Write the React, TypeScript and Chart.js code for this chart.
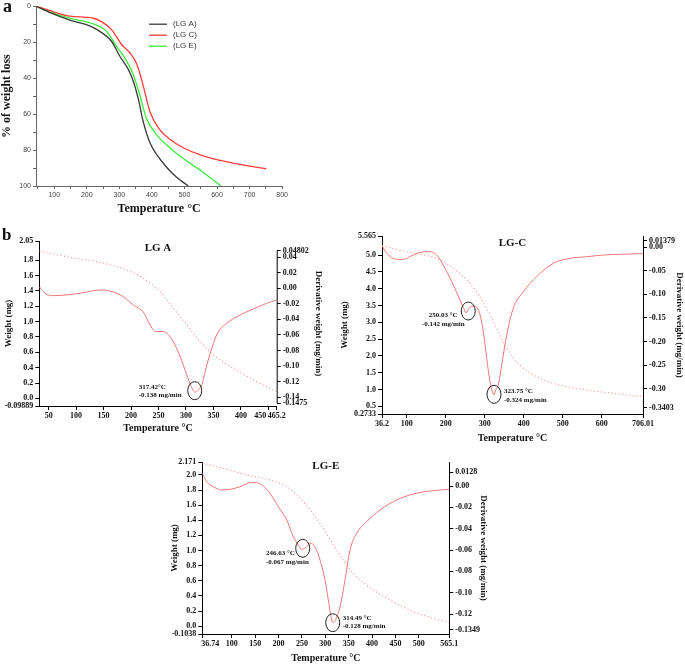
import { useEffect, useRef } from "react";
import { Chart, registerables } from "chart.js";

Chart.register(...registerables);

const SERIF = "'Liberation Serif', 'Times New Roman', serif";
const SANS = "'Liberation Sans', Arial, sans-serif";

// ---------------- Panel a : % of weight loss ----------------
const aSeriesNames = ["(LG A)", "(LG C)", "(LG E)"];
const aTempLGA = [45, 87, 148, 209, 240, 276, 301, 327, 342, 358, 373, 394, 414, 445, 475, 512];
const aLossLGA = [0, 3.6, 7.7, 10.9, 14, 19.5, 27.7, 35, 41.3, 51.4, 64, 76, 82.3, 89.6, 95, 100];
const aTempLGC = [45, 87, 148, 220, 245, 276, 307, 332, 353, 373, 394, 424, 455, 496, 557, 639, 700, 751];
const aLossLGC = [0, 2.5, 5.5, 6.7, 8.6, 13, 21.3, 25.9, 32, 44, 58.7, 68.7, 74, 78.7, 83.2, 86.9, 89, 90.4];
const aTempLGE = [45, 87, 148, 220, 261, 291, 322, 342, 363, 383, 414, 455, 506, 557, 612];
const aLossLGE = [0, 3.1, 6.7, 9.8, 14, 22.2, 30.4, 37.7, 49.5, 62.3, 71.4, 78.7, 86, 92.3, 100];
const aXTicks = [50, 100, 150, 200, 250, 300, 350, 400, 450, 500, 550, 600, 650, 700, 750, 800];
const aYTicks = [0, 10, 20, 30, 40, 50, 60, 70, 80, 90, 100];

// ---------------- LG A ----------------
const lgaDerivTemp = [33, 40, 55.6, 83, 113, 143.6, 161.8, 186, 204, 222.4, 231.5, 240.7, 246.8, 258.9, 271, 283, 295, 306, 313.5, 317.4, 321, 328.8, 338, 350, 359, 374, 398.6, 422.8, 447, 465.2];
const lgaDerivVal = [0.002, -0.0044, -0.0095, -0.0086, -0.0056, -0.0022, -0.0035, -0.0108, -0.0214, -0.0308, -0.0429, -0.0536, -0.0557, -0.0557, -0.0621, -0.0771, -0.0985, -0.12, -0.1315, -0.1335, -0.1315, -0.124, -0.0985, -0.0706, -0.0557, -0.045, -0.0343, -0.0266, -0.0193, -0.015];
const lgaWeightTemp = [33, 83, 143.6, 192, 222.4, 253, 277, 301.5, 325.7, 350, 386.4, 422.8, 465.2];
const lgaWeightVal = [1.919, 1.846, 1.772, 1.672, 1.564, 1.389, 1.173, 0.956, 0.739, 0.565, 0.392, 0.24, 0.087];
const lgaXTicks = ["50", "100", "150", "200", "250", "300", "350", "400", "450", "465.2"];
const lgaLeftTicks = ["-0.09889", "0.0", "0.2", "0.4", "0.6", "0.8", "1.0", "1.2", "1.4", "1.6", "1.8", "2.05"];
const lgaRightTicks = ["-0.1475", "-0.14", "-0.12", "-0.10", "-0.08", "-0.06", "-0.04", "-0.02", "0.00", "0.02", "0.04", "0.04802"];
const lgaPeakTemp = [316];
const lgaPeakVal = [-0.1315];
const lgaPeakText = [["317.42°C", "-0.138 mg/min"]];

// ---------------- LG-C ----------------
const lgcDerivTemp = [36.2, 48.3, 74, 90.9, 112.4, 133.7, 159.4, 176.6, 197.9, 219.2, 236.4, 245, 251.8, 260.2, 272.3, 285.9, 296.2, 304.9, 313.3, 319, 323.7, 328, 334.6, 343.4, 356.2, 373, 398.8, 433, 475.8, 518.6, 561.5, 604, 647, 706];
const lgcDerivVal = [0.003, -0.0133, -0.026, -0.026, -0.0184, -0.0112, -0.0099, -0.0169, -0.045, -0.0803, -0.1121, -0.128, -0.139, -0.1283, -0.1247, -0.138, -0.179, -0.2353, -0.2848, -0.305, -0.313, -0.302, -0.2918, -0.2495, -0.186, -0.1296, -0.0945, -0.0628, -0.0345, -0.0239, -0.0205, -0.0169, -0.0154, -0.014];
const lgcWeightTemp = [36.2, 91, 133.7, 176.6, 219, 262, 305, 330.5, 356, 390, 433, 475.8, 561.5, 647, 706];
const lgcWeightVal = [5.276, 5.119, 5.02, 4.9, 4.604, 4.158, 3.415, 2.82, 2.226, 1.73, 1.382, 1.186, 0.987, 0.868, 0.788];
const lgcXTicks = ["36.2", "100", "200", "300", "400", "500", "600", "706.01"];
const lgcLeftTicks = ["0.2733", "0.5", "1.0", "1.5", "2.0", "2.5", "3.0", "3.5", "4.0", "4.5", "5.0", "5.565"];
const lgcRightTicks = ["-0.3403", "-0.30", "-0.25", "-0.20", "-0.15", "-0.10", "-0.05", "0.00", "0.01379"];
const lgcPeakTemp = [257.5, 323.6];
const lgcPeakVal = [-0.1353, -0.3114];
const lgcPeakText = [["250.03 °C", "-0.142 mg/min"], ["323.75 °C", "-0.324 mg/min"]];

// ---------------- LG-E ----------------
const lgeDerivTemp = [36.74, 46.2, 60.3, 78.2, 96, 117.4, 138.8, 153, 167.2, 181.5, 199.3, 217.3, 231.4, 242, 249.3, 260, 268.6, 277.8, 288.5, 299.2, 306.3, 313.5, 316, 320.6, 331.3, 342, 352.7, 367, 388.4, 416.8, 452.6, 488, 523.8, 565.1];
const lgeDerivVal = [0.0119, 0.004, -0.0007, -0.0037, -0.0031, -0.0007, 0.0031, 0.0031, 0, -0.0069, -0.0194, -0.0319, -0.0475, -0.0553, -0.0594, -0.0569, -0.0537, -0.0569, -0.0694, -0.0881, -0.1068, -0.1256, -0.128, -0.1262, -0.1131, -0.0881, -0.06, -0.0443, -0.0334, -0.0225, -0.0131, -0.0075, -0.0047, -0.0031];
const lgeWeightTemp = [36.74, 89, 131.7, 181.5, 217.3, 252.8, 288.5, 324, 359.7, 402.5, 445.3, 488, 530.8, 565.1];
const lgeWeightVal = [2.154, 2.075, 2.0, 1.933, 1.845, 1.646, 1.36, 1.007, 0.699, 0.478, 0.323, 0.191, 0.104, 0.046];
const lgeXTicks = ["36.74", "100", "150", "200", "250", "300", "350", "400", "450", "500", "565.1"];
const lgeLeftTicks = ["-0.1038", "0.0", "0.2", "0.4", "0.6", "0.8", "1.0", "1.2", "1.4", "1.6", "1.8", "2.0", "2.171"];
const lgeRightTicks = ["-0.1349", "-0.12", "-0.10", "-0.08", "-0.06", "-0.04", "-0.02", "0.00", "0.0128"];
const lgePeakTemp = [251.5, 315.7];
const lgePeakVal = [-0.0584, -0.1281];
const lgePeakText = [["246.63 °C", "-0.067 mg/min"], ["314.49 °C", "-0.128 mg/min"]];

const pts = (xs: number[], ys: number[]) => xs.map((x, i) => ({ x, y: ys[i] }));

function fixedTicks(labels: string[], map?: (l: string, i: number, n: number) => string) {
  const vals = labels.map(Number);
  return {
    after: (s: any) => {
      s.ticks = vals.map((v) => ({ value: v }));
    },
    cb: (v: any) => {
      const i = vals.indexOf(Number(v));
      if (i < 0) return "";
      return map ? map(labels[i], i, labels.length) : labels[i];
    },
  };
}

function buildPanelA(canvas: HTMLCanvasElement) {
  const legendPlugin = {
    id: "aLegend",
    afterDraw(chart: any) {
      const { ctx, chartArea: ca } = chart;
      ctx.save();
      chart.data.datasets.forEach((ds: any, i: number) => {
        const y = ca.top + 18 + i * 11;
        ctx.strokeStyle = ds.borderColor;
        ctx.lineWidth = 1.3;
        ctx.beginPath();
        ctx.moveTo(ca.left + 113, y);
        ctx.lineTo(ca.left + 131, y);
        ctx.stroke();
        ctx.fillStyle = "#333";
        ctx.font = `8px ${SANS}`;
        ctx.textBaseline = "middle";
        ctx.textAlign = "left";
        ctx.fillText(ds.label, ca.left + 137, y);
      });
      ctx.restore();
    },
  };
  const axisCol = "#666";
  return new Chart(canvas, {
    type: "line",
    data: {
      datasets: [
        { label: aSeriesNames[0], data: pts(aTempLGA, aLossLGA), borderColor: "#3a3a3a" },
        { label: aSeriesNames[1], data: pts(aTempLGC, aLossLGC), borderColor: "#ff3b3b" },
        { label: aSeriesNames[2], data: pts(aTempLGE, aLossLGE), borderColor: "#3ded3d" },
      ].map((d) => ({ ...d, borderWidth: 1.3, pointRadius: 0, cubicInterpolationMode: "monotone" as const, fill: false })),
    },
    options: {
      responsive: false,
      animation: false,
      devicePixelRatio: 1,
      layout: { padding: { top: 3, right: 7, left: 0, bottom: 0 } },
      plugins: { legend: { display: false }, tooltip: { enabled: false } },
      scales: {
        x: {
          type: "linear",
          min: 44,
          max: 800,
          afterBuildTicks: (s: any) => {
            s.ticks = aXTicks.map((v) => ({ value: v }));
          },
          afterFit: (s: any) => {
            s.height = 30;
          },
          border: { display: true, color: axisCol, width: 1 },
          grid: { display: true, drawOnChartArea: false, drawTicks: true, tickLength: 3, color: axisCol },
          ticks: {
            autoSkip: false,
            maxRotation: 0,
            padding: 2,
            color: "#444",
            font: { family: SANS, size: 7 },
            callback: (v: any) => (Number(v) % 100 === 0 ? String(v) : ""),
          },
          title: { display: true, text: "Temperature °C", color: "#111", padding: 0, font: { family: SERIF, size: 12, weight: "bold" } },
        },
        y: {
          type: "linear",
          reverse: true,
          min: 0,
          max: 100,
          afterBuildTicks: (s: any) => {
            s.ticks = aYTicks.map((v) => ({ value: v }));
          },
          afterFit: (s: any) => {
            s.width = 36;
          },
          border: { display: true, color: axisCol, width: 1 },
          grid: { display: true, drawOnChartArea: false, drawTicks: true, tickLength: 3, color: axisCol },
          ticks: {
            autoSkip: false,
            padding: 2,
            color: "#444",
            font: { family: SANS, size: 7 },
            callback: (v: any) => (Number(v) % 20 === 0 ? String(v) : ""),
          },
          title: { display: true, text: "% of weight loss", color: "#111", padding: { top: 0, bottom: 0 }, font: { family: SERIF, size: 12, weight: "bold" } },
        },
      },
    },
    plugins: [legendPlugin],
  } as any);
}

type TGASpec = {
  title: string;
  titleDy: number;
  derivT: number[];
  derivV: number[];
  weightT: number[];
  weightV: number[];
  xMin: number;
  xMax: number;
  xTicks: string[];
  xMap?: (l: string, i: number, n: number) => string;
  leftMin: number;
  leftMax: number;
  leftTicks: string[];
  rightMin: number;
  rightMax: number;
  rightTicks: string[];
  rightBorderFromTicks: boolean;
  peakT: number[];
  peakV: number[];
  peakText: string[][];
  peakAlign: CanvasTextAlign[];
  peakDx: number[];
  peakDy: number[][];
  padTop: number;
  leftW: number;
  rightW: number;
  xH: number;
  leftTitlePad: number;
  rightTitlePad: number;
};

function buildTGA(canvas: HTMLCanvasElement, sp: TGASpec) {
  const xt = fixedTicks(sp.xTicks, sp.xMap);
  const lt = fixedTicks(sp.leftTicks);
  const rt = fixedTicks(sp.rightTicks);
  const tickFont = { family: SERIF, size: 8, weight: "bold" as const };
  const titleFont = { family: SERIF, size: 9, weight: "bold" as const };
  const ink = "#111";
  const curve = "#f07878";
  const overlay = {
    id: "tgaOverlay",
    afterDraw(chart: any) {
      const { ctx, chartArea: ca } = chart;
      const xs = chart.scales.x;
      const y1 = chart.scales.y1;
      ctx.save();
      ctx.fillStyle = ink;
      ctx.font = `bold 11px ${SERIF}`;
      ctx.textAlign = "center";
      ctx.textBaseline = "middle";
      ctx.fillText(sp.title, (ca.left + ca.right) / 2, ca.top + sp.titleDy);
      sp.peakT.forEach((t, i) => {
        const cx = xs.getPixelForValue(t);
        const cy = y1.getPixelForValue(sp.peakV[i]);
        ctx.beginPath();
        ctx.ellipse(cx, cy, 7, 9, 0, 0, Math.PI * 2);
        ctx.strokeStyle = "#222";
        ctx.lineWidth = 1;
        ctx.stroke();
        ctx.font = `bold 7px ${SERIF}`;
        ctx.textAlign = sp.peakAlign[i];
        ctx.fillStyle = ink;
        sp.peakText[i].forEach((line, j) => {
          ctx.fillText(line, cx + sp.peakDx[i], cy + sp.peakDy[i][j]);
        });
      });
      if (sp.rightBorderFromTicks) {
        const vals = sp.rightTicks.map(Number);
        const top = y1.getPixelForValue(Math.max(...vals));
        const bot = y1.getPixelForValue(Math.min(...vals));
        ctx.strokeStyle = "#000";
        ctx.lineWidth = 1;
        ctx.beginPath();
        ctx.moveTo(y1.left + 0.5, top);
        ctx.lineTo(y1.left + 0.5, bot);
        ctx.stroke();
      }
      ctx.restore();
    },
  };
  const gridOpt = { display: true, drawOnChartArea: false, drawTicks: true, tickLength: 4, color: "#000" };
  return new Chart(canvas, {
    type: "line",
    data: {
      datasets: [
        {
          label: "Derivative weight",
          data: pts(sp.derivT, sp.derivV),
          yAxisID: "y1",
          borderColor: curve,
          borderWidth: 1,
          pointRadius: 0,
          cubicInterpolationMode: "monotone",
          fill: false,
        },
        {
          label: "Weight",
          data: pts(sp.weightT, sp.weightV),
          yAxisID: "y",
          borderColor: "#f39a9a",
          borderWidth: 1.1,
          borderDash: [1.2, 2.4],
          pointRadius: 0,
          cubicInterpolationMode: "monotone",
          fill: false,
        },
      ],
    },
    options: {
      responsive: false,
      animation: false,
      devicePixelRatio: 1,
      layout: { padding: { top: sp.padTop, right: 0, left: 0, bottom: 0 } },
      plugins: { legend: { display: false }, tooltip: { enabled: false } },
      scales: {
        x: {
          type: "linear",
          min: sp.xMin,
          max: sp.xMax,
          afterBuildTicks: xt.after,
          afterFit: (s: any) => {
            s.height = sp.xH;
          },
          border: { display: true, color: "#000", width: 1 },
          grid: gridOpt,
          ticks: { autoSkip: false, maxRotation: 0, padding: 1, color: ink, font: tickFont, callback: xt.cb },
          title: { display: true, text: "Temperature °C", color: ink, padding: 0, font: { family: SERIF, size: 10, weight: "bold" } },
        },
        y: {
          type: "linear",
          position: "left",
          min: sp.leftMin,
          max: sp.leftMax,
          afterBuildTicks: lt.after,
          afterFit: (s: any) => {
            s.width = sp.leftW;
          },
          border: { display: true, color: "#000", width: 1 },
          grid: gridOpt,
          ticks: { autoSkip: false, padding: 2, color: ink, font: tickFont, callback: lt.cb },
          title: { display: true, text: "Weight (mg)", color: ink, padding: { top: sp.leftTitlePad, bottom: 0 }, font: titleFont },
        },
        y1: {
          type: "linear",
          position: "right",
          min: sp.rightMin,
          max: sp.rightMax,
          afterBuildTicks: rt.after,
          afterFit: (s: any) => {
            s.width = sp.rightW;
          },
          border: { display: !sp.rightBorderFromTicks, color: "#000", width: 1 },
          grid: gridOpt,
          ticks: { autoSkip: false, padding: 2, color: ink, font: tickFont, callback: rt.cb },
          title: { display: true, text: "Derivative weight (mg/min)", color: ink, padding: { top: sp.rightTitlePad, bottom: 0 }, font: titleFont },
        },
      },
    },
    plugins: [overlay],
  } as any);
}

const nb = (n: number) => "\u00a0".repeat(n);

const lgaSpec: TGASpec = {
  title: "LG A",
  titleDy: 7,
  derivT: lgaDerivTemp,
  derivV: lgaDerivVal,
  weightT: lgaWeightTemp,
  weightV: lgaWeightVal,
  xMin: 33,
  xMax: 465.2,
  xTicks: lgaXTicks,
  xMap: (l, i, n) => (i === n - 2 ? l + nb(8) : l),
  leftMin: -0.09889,
  leftMax: 2.05,
  leftTicks: lgaLeftTicks,
  rightMin: -0.1512,
  rightMax: 0.0607,
  rightTicks: lgaRightTicks,
  rightBorderFromTicks: true,
  peakT: lgaPeakTemp,
  peakV: lgaPeakVal,
  peakText: lgaPeakText,
  peakAlign: ["left"],
  peakDx: [-56],
  peakDy: [[-3.5, 5]],
  padTop: 15,
  leftW: 39.3,
  rightW: 53.3,
  xH: 28,
  leftTitlePad: 3,
  rightTitlePad: 6,
};

const lgcSpec: TGASpec = {
  title: "LG-C",
  titleDy: 7,
  derivT: lgcDerivTemp,
  derivV: lgcDerivVal,
  weightT: lgcWeightTemp,
  weightV: lgcWeightVal,
  xMin: 36.2,
  xMax: 706.01,
  xTicks: lgcXTicks,
  leftMin: 0.2733,
  leftMax: 5.565,
  leftTicks: lgcLeftTicks,
  rightMin: -0.353,
  rightMax: 0.0233,
  rightTicks: lgcRightTicks,
  rightBorderFromTicks: false,
  peakT: lgcPeakTemp,
  peakV: lgcPeakVal,
  peakText: lgcPeakText,
  peakAlign: ["center", "left"],
  peakDx: [-25, 10],
  peakDy: [[4, 13], [-3.6, 5.7]],
  padTop: 10,
  leftW: 52,
  rightW: 42,
  xH: 30,
  leftTitlePad: 9.6,
  rightTitlePad: 0,
};

const lgeSpec: TGASpec = {
  title: "LG-E",
  titleDy: 4,
  derivT: lgeDerivTemp,
  derivV: lgeDerivVal,
  weightT: lgeWeightTemp,
  weightV: lgeWeightVal,
  xMin: 36.74,
  xMax: 565.1,
  xTicks: lgeXTicks,
  xMap: (l, i) => (i === 0 ? nb(8) + l : l),
  leftMin: -0.1038,
  leftMax: 2.171,
  leftTicks: lgeLeftTicks,
  rightMin: -0.1387,
  rightMax: 0.0225,
  rightTicks: lgeRightTicks,
  rightBorderFromTicks: false,
  peakT: lgePeakTemp,
  peakV: lgePeakVal,
  peakText: lgePeakText,
  peakAlign: ["left", "left"],
  peakDx: [-36.7, 10],
  peakDy: [[5, 13.4], [-5, 3.3]],
  padTop: 14,
  leftW: 52.3,
  rightW: 40.7,
  xH: 30,
  leftTitlePad: 19.6,
  rightTitlePad: 1.3,
};

export default function App() {
  const aRef = useRef<HTMLCanvasElement>(null);
  const bARef = useRef<HTMLCanvasElement>(null);
  const bCRef = useRef<HTMLCanvasElement>(null);
  const bERef = useRef<HTMLCanvasElement>(null);

  useEffect(() => {
    const charts = [
      buildPanelA(aRef.current!),
      buildTGA(bARef.current!, lgaSpec),
      buildTGA(bCRef.current!, lgcSpec),
      buildTGA(bERef.current!, lgeSpec),
    ];
    return () => charts.forEach((c) => c.destroy());
  }, []);

  const cv = (left: number, top: number, w: number, h: number) => ({
    position: "absolute" as const,
    left,
    top,
    width: w,
    height: h,
  });

  return (
    <div style={{ position: "absolute", left: 0, top: 0, width: 685, height: 664, background: "#fff", overflow: "hidden" }}>
      <canvas ref={aRef} width={290} height={216} style={cv(0, 0, 290, 216)} />
      <canvas ref={bARef} width={330} height={208} style={cv(0, 226, 330, 208)} />
      <canvas ref={bCRef} width={355} height={218} style={cv(330, 226, 355, 218)} />
      <canvas ref={bERef} width={340} height={216} style={cv(150, 448, 340, 216)} />
      <div style={{ position: "absolute", left: 3, top: -3, font: `bold 18px ${SERIF}`, lineHeight: "18px", color: "#111" }}>a</div>
      <div style={{ position: "absolute", left: 2, top: 226, font: `bold 17px ${SERIF}`, lineHeight: "17px", color: "#111" }}>b</div>
    </div>
  );
}
